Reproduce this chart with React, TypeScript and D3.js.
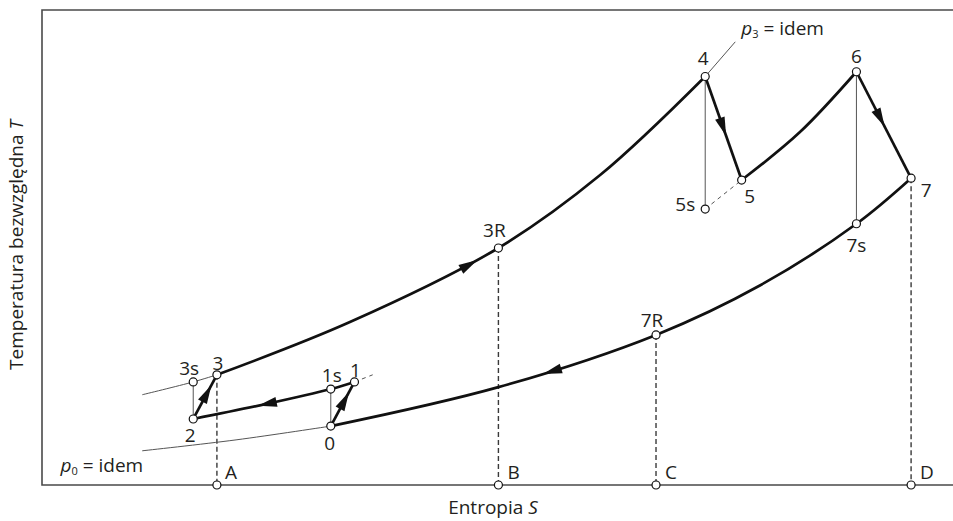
import { useEffect, useRef } from 'react'
import * as d3 from 'd3'

const W = 953
const H = 521

// Cycle states on the T-s plane (entropy s, temperature T in chart units 0..100)
const stateNames = ['0', '1', '1s', '2', '3', '3s', '3R', '4', '5', '5s', '6', '7', '7s', '7R', 'A', 'B', 'C', 'D']
const stateS = [31.7, 34.3, 31.7, 16.6, 19.2, 16.6, 50.1, 72.8, 76.8, 72.8, 89.4, 95.4, 89.4, 67.4, 19.2, 50.1, 67.4, 95.4]
const stateT = [12.4, 21.7, 20.2, 13.9, 23.2, 21.7, 49.9, 86.0, 64.2, 58.1, 87.0, 64.6, 55.0, 31.6, 0, 0, 0, 0]

// Points on curves: a state name or an [s, T] pair
type P = string | [number, number]

// heavy lines (process lines of the cycle)
const thickLines: { id: string; pts: P[] }[] = [
  { id: 'p3', pts: ['3', [33.8, 34.3], '3R', [61.3, 65.3], '4'] },
  { id: 'p0', pts: ['0', [50.1, 20.6], '7R', [78.8, 42.0], '7s', '7'] },
  { id: 'p1', pts: ['2', [24.5, 17.0], '1s', '1'] },
  { id: 'reheat', pts: ['5', [83.2, 74.3], '6'] },
  { id: 'c01', pts: ['0', '1'] },
  { id: 'c23', pts: ['2', '3'] },
  { id: 'c45', pts: ['4', '5'] },
  { id: 'c67', pts: ['6', '7'] },
]

// thin lines: isobar extensions, isentropes, p3 leader
const thinLines: P[][] = [
  [[11.0, 19.0], '3s', '3'],
  [[11.0, 7.2], [21.3, 9.5], '0'],
  ['0', '1s'],
  ['2', '3s'],
  ['4', '5s'],
  ['6', '7s'],
  ['4', [76.1, 93.3]],
]

// thin dashed lines
const thinDashed: P[][] = [
  ['5s', '5'],
  ['1', [36.3, 23.2]],
]

// drop lines to the entropy axis
const dropLines: P[][] = [
  ['3', 'A'],
  ['3R', 'B'],
  ['7R', 'C'],
  ['7', 'D'],
]

// arrowheads: which line, at what entropy, direction along the line
const arrows = [
  { line: 'p3', s: 47.8, dir: 1 },
  { line: 'p0', s: 55.0, dir: -1 },
  { line: 'p1', s: 23.7, dir: -1 },
  { line: 'c01', s: 33.7, dir: 1 },
  { line: 'c23', s: 18.6, dir: 1 },
  { line: 'c45', s: 75.1, dir: 1 },
  { line: 'c67', s: 92.5, dir: 1 },
]

// label placement relative to its point: dx, dy (baseline), anchor
const labelPos: Record<string, [number, number, string]> = {
  '0': [-1, 24, 'middle'],
  '1': [1, -5, 'middle'],
  '1s': [1, -7, 'middle'],
  '2': [-3, 23, 'middle'],
  '3': [1, -5, 'middle'],
  '3s': [-4, -7, 'middle'],
  '3R': [-4, -11, 'middle'],
  '4': [-2, -12, 'middle'],
  '5': [8, 23, 'middle'],
  '5s': [-10, 2, 'end'],
  '6': [0, -9, 'middle'],
  '7': [15, 19, 'middle'],
  '7s': [0, 28, 'middle'],
  '7R': [-4, -8, 'middle'],
  A: [8, -6, 'start'],
  B: [9, -6, 'start'],
  C: [9, -6, 'start'],
  D: [9, -6, 'start'],
}

const FONT = '"Open Sans", sans-serif'
const FS = 19
const INK = '#231f20'

export default function App() {
  const svgRef = useRef<SVGSVGElement>(null)

  useEffect(() => {
    const svg = d3.select(svgRef.current)
    svg.selectAll('*').remove()

    const x = d3.scaleLinear().domain([0, 100]).range([42, W])
    const y = d3.scaleLinear().domain([0, 100]).range([485, 10])

    const pt = (p: P): [number, number] => {
      if (typeof p === 'string') {
        const i = stateNames.indexOf(p)
        return [stateS[i], stateT[i]]
      }
      return p
    }
    const line = d3.line<[number, number]>()
      .x(d => x(d[0]))
      .y(d => y(d[1]))
      .curve(d3.curveCatmullRom.alpha(0.5))

    // frame (axes)
    svg.append('path')
      .attr('d', `M${x(100)},${y(100)}H${x(0)}V${y(0)}H${x(100)}`)
      .attr('fill', 'none')
      .attr('stroke', '#4a4a4a')
      .attr('stroke-width', 1.6)

    const g = svg.append('g').attr('fill', 'none')

    dropLines.forEach(l => {
      g.append('path')
        .attr('d', line(l.map(pt)))
        .attr('stroke', '#3a3a3a')
        .attr('stroke-width', 1.4)
        .attr('stroke-dasharray', '5,3')
    })

    thinLines.forEach(l => {
      g.append('path')
        .attr('d', line(l.map(pt)))
        .attr('stroke', '#555')
        .attr('stroke-width', 1)
    })

    thinDashed.forEach(l => {
      g.append('path')
        .attr('d', line(l.map(pt)))
        .attr('stroke', '#555')
        .attr('stroke-width', 1)
        .attr('stroke-dasharray', '4,4')
    })

    const nodes: Record<string, SVGPathElement> = {}
    thickLines.forEach(l => {
      const p = g.append('path')
        .attr('d', line(l.pts.map(pt)))
        .attr('stroke', '#111')
        .attr('stroke-width', 2.7)
        .attr('stroke-linejoin', 'round')
      nodes[l.id] = p.node() as SVGPathElement
    })

    // arrowheads placed along the heavy lines
    arrows.forEach(a => {
      const node = nodes[a.line]
      const total = node.getTotalLength()
      const tx = x(a.s)
      let lo = 0
      let hi = total
      const increasing = node.getPointAtLength(total).x > node.getPointAtLength(0).x
      for (let k = 0; k < 40; k++) {
        const mid = (lo + hi) / 2
        const px = node.getPointAtLength(mid).x
        if ((px < tx) === increasing) lo = mid
        else hi = mid
      }
      const len = (lo + hi) / 2
      const p = node.getPointAtLength(len)
      const p1 = node.getPointAtLength(Math.max(0, len - 1))
      const p2 = node.getPointAtLength(Math.min(total, len + 1))
      let ang = Math.atan2(p2.y - p1.y, p2.x - p1.x) * 180 / Math.PI
      if (a.dir < 0) ang += 180
      svg.append('path')
        .attr('d', 'M0,0L-19,-5L-19,5Z')
        .attr('fill', '#111')
        .attr('transform', `translate(${p.x},${p.y}) rotate(${ang})`)
    })

    // state circles
    svg.append('g')
      .selectAll('circle')
      .data(stateNames)
      .join('circle')
      .attr('cx', (_, i) => x(stateS[i]))
      .attr('cy', (_, i) => y(stateT[i]))
      .attr('r', 4)
      .attr('fill', '#fff')
      .attr('stroke', '#111')
      .attr('stroke-width', 1.2)

    // state labels
    svg.append('g')
      .attr('font-family', FONT)
      .attr('font-size', FS)
      .attr('fill', INK)
      .selectAll('text')
      .data(stateNames)
      .join('text')
      .attr('x', (d, i) => x(stateS[i]) + labelPos[d][0])
      .attr('y', (d, i) => y(stateT[i]) + labelPos[d][1])
      .attr('text-anchor', d => labelPos[d][2])
      .text(d => d)

    const pressureLabel = (px: number, py: number, sub: string, anchor: string) => {
      const t = svg.append('text')
        .attr('x', px)
        .attr('y', py)
        .attr('text-anchor', anchor)
        .attr('font-family', FONT)
        .attr('font-size', FS)
        .attr('fill', INK)
      t.append('tspan').attr('font-style', 'italic').text('p')
      t.append('tspan').attr('font-size', 11).attr('dy', 3).text(sub)
      t.append('tspan').attr('dy', -3).text(' = idem')
    }
    const lead = pt([76.1, 93.3])
    pressureLabel(x(lead[0]) + 6, y(lead[1]) - 7, '3', 'start')
    const p0start = pt([11.0, 7.2])
    pressureLabel(x(p0start[0]) + 1, y(p0start[1]) + 21, '0', 'end')

    // axis titles
    const xt = svg.append('text')
      .attr('x', 493)
      .attr('y', 514)
      .attr('text-anchor', 'middle')
      .attr('font-family', FONT)
      .attr('font-size', FS)
      .attr('fill', INK)
    xt.append('tspan').text('Entropia ')
    xt.append('tspan').attr('font-style', 'italic').text('S')

    const yt = svg.append('text')
      .attr('transform', 'translate(23,245) rotate(-90)')
      .attr('text-anchor', 'middle')
      .attr('font-family', FONT)
      .attr('font-size', FS)
      .attr('fill', INK)
    yt.append('tspan').text('Temperatura bezwzględna ')
    yt.append('tspan').attr('font-style', 'italic').text('T')
  }, [])

  return (
    <svg
      ref={svgRef}
      width={W}
      height={H}
      style={{ position: 'absolute', left: 0, top: 0, background: '#fff' }}
    />
  )
}
